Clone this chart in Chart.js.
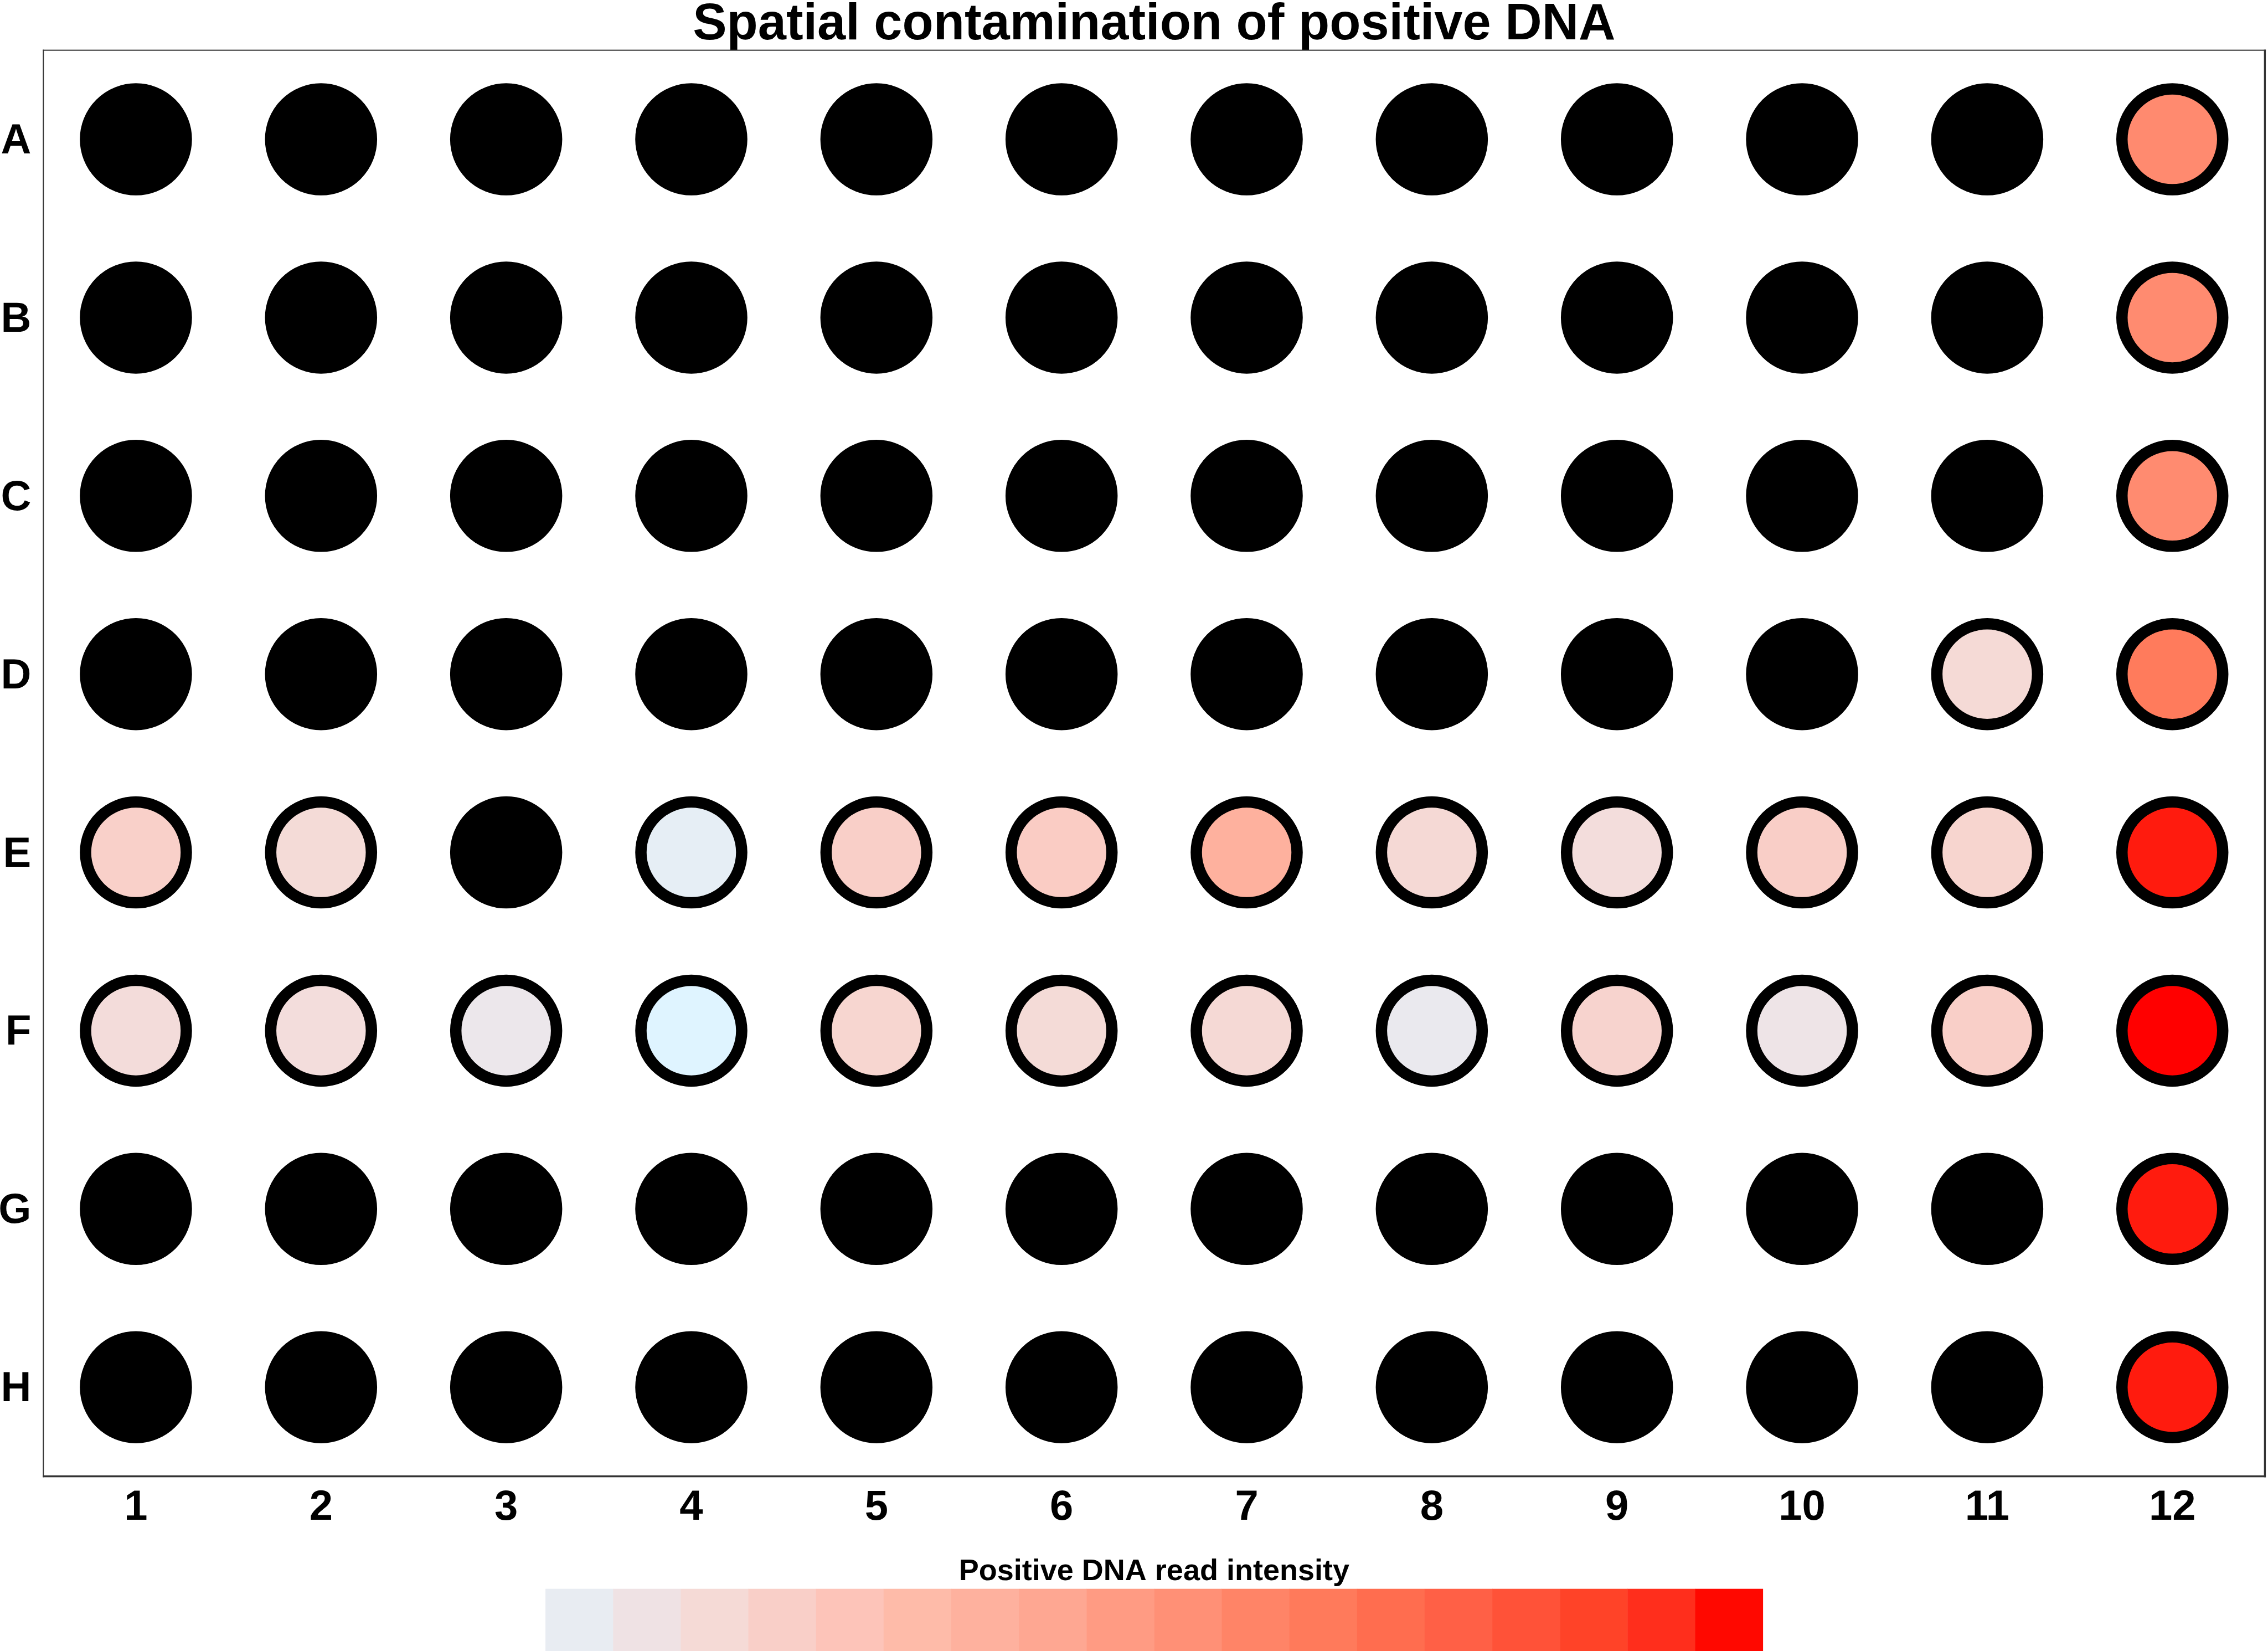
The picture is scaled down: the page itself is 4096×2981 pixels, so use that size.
<!DOCTYPE html>
<html>
<head>
<meta charset="utf-8">
<script src="https://cdn.jsdelivr.net/npm/chart.js@4.4.1/dist/chart.umd.min.js"></script>
<style>
  html, body { margin: 0; padding: 0; background: #ffffff; }
  canvas { display: block; }
</style>
</head>
<body>
<canvas id="c" width="4096" height="2981"></canvas>
<script>
// ---- data ----
const rowLabels = ['A', 'B', 'C', 'D', 'E', 'F', 'G', 'H'];
const colLabels = ['1', '2', '3', '4', '5', '6', '7', '8', '9', '10', '11', '12'];

// Positive DNA read intensity per well (0 = lowest, 18 = highest), null = no positive reads (black well)
const rowA = [null, null, null, null, null, null, null, null, null, null, null, 10.0];
const rowB = [null, null, null, null, null, null, null, null, null, null, null, 9.9];
const rowC = [null, null, null, null, null, null, null, null, null, null, null, 9.9];
const rowD = [null, null, null, null, null, null, null, null, null, null, 2.5, 11.4];
const rowE = [3.4, 2.4, null, 0.4, 3.5, 3.8, 6.5, 2.6, 2.1, 3.6, 3.0, 17.0];
const rowF = [2.2, 2.1, 1.0, 0.0, 2.9, 2.4, 2.6, 0.8, 3.1, 1.3, 3.5, 18.0];
const rowG = [null, null, null, null, null, null, null, null, null, null, null, 17.0];
const rowH = [null, null, null, null, null, null, null, null, null, null, null, 17.0];
const wellRows = [rowA, rowB, rowC, rowD, rowE, rowF, rowG, rowH];

// colour bar bins of the legend (low -> high)
const legendColors = [
  '#E8ECF2', '#EFE2E4', '#F5DAD6', '#F9CFC8', '#FDC4B9', '#FEBBA9',
  '#FEB19E', '#FEA792', '#FF9B83', '#FF9076', '#FF8467', '#FF7A5B',
  '#FF6D4F', '#FF6046', '#FF5238', '#FF4328', '#FF2E1C', '#FF0800'
];
const lowColor = '#DFF4FF';
const highColor = '#FF0000';
const naColor = '#000000';

const titleText = 'Spatial contamination of positive DNA';
const legendTitle = 'Positive DNA read intensity';

// ---- colour scale ----
function hex2rgb(h) {
  return [parseInt(h.slice(1, 3), 16), parseInt(h.slice(3, 5), 16), parseInt(h.slice(5, 7), 16)];
}
const stopPos = [0].concat(legendColors.map((c, i) => i + 0.5)).concat([legendColors.length]);
const stopCol = [lowColor].concat(legendColors).concat([highColor]).map(hex2rgb);
function colorFor(v) {
  if (v === null || v === undefined) return naColor;
  if (v <= stopPos[0]) return 'rgb(' + stopCol[0].join(',') + ')';
  for (let i = 1; i < stopPos.length; i++) {
    if (v <= stopPos[i]) {
      const t = (v - stopPos[i - 1]) / (stopPos[i] - stopPos[i - 1]);
      const a = stopCol[i - 1], b = stopCol[i];
      return 'rgb(' + a.map((x, k) => Math.round(x + (b[k] - x) * t)).join(',') + ')';
    }
  }
  return 'rgb(' + stopCol[stopCol.length - 1].join(',') + ')';
}

const points = [];
wellRows.forEach((vals, r) => {
  vals.forEach((v, c) => {
    points.push({ x: colLabels[c], y: rowLabels[r], v: v });
  });
});

const FONT = '"Liberation Sans", Arial, Helvetica, sans-serif';

// frame + colour bar legend
const framePlugin = {
  id: 'frame',
  afterDraw(chart) {
    const ctx = chart.ctx;
    const a = chart.chartArea;
    ctx.save();
    ctx.fillStyle = '#333333';
    ctx.fillRect(a.left - 1, a.top - 1, 2, a.bottom - a.top + 2.7);      // left
    ctx.fillRect(a.left - 1, a.top - 1, a.right - a.left + 2.7, 2);      // top
    ctx.fillRect(a.right - 1.7, a.top - 1, 3.4, a.bottom - a.top + 2.7); // right
    ctx.fillRect(a.left - 1, a.bottom - 1.7, a.right - a.left + 2.7, 3.4); // bottom

    // colour bar
    const cx = (a.left + a.right) / 2;
    const barW = 2198.5;
    const x0 = cx - barW / 2;
    const binW = barW / legendColors.length;
    const top = 2868.7;
    legendColors.forEach((c, i) => {
      ctx.fillStyle = c;
      ctx.fillRect(x0 + i * binW, top, binW + 0.5, chart.height - top);
    });
    ctx.fillStyle = '#000000';
    ctx.font = 'bold 54px ' + FONT;
    ctx.textAlign = 'center';
    ctx.textBaseline = 'alphabetic';
    ctx.fillText(legendTitle, cx, 2853);
    ctx.restore();
  }
};

new Chart(document.getElementById('c'), {
  type: 'scatter',
  data: {
    datasets: [{
      data: points,
      pointRadius: 91,
      pointHoverRadius: 91,
      pointBorderWidth: 20.5,
      pointHoverBorderWidth: 20.5,
      pointBorderColor: '#000000',
      pointBackgroundColor: (ctx) => colorFor(ctx.raw ? ctx.raw.v : null),
      clip: false
    }]
  },
  options: {
    responsive: false,
    devicePixelRatio: 1,
    animation: false,
    events: [],
    layout: { autoPadding: false, padding: { left: 0, right: 5.6, top: 0, bottom: 0 } },
    plugins: {
      legend: { display: false },
      tooltip: { enabled: false },
      title: {
        display: true,
        text: titleText,
        color: '#000000',
        fullSize: false,
        font: { family: FONT, size: 92, weight: 'bold', lineHeight: 0.78 },
        padding: { top: 10.2, bottom: 8.7 }
      }
    },
    scales: {
      x: {
        type: 'category',
        labels: colLabels,
        offset: true,
        position: 'bottom',
        grid: { display: false, drawTicks: false },
        border: { display: false },
        ticks: {
          color: '#000000',
          padding: 11.5,
          font: { family: FONT, size: 76, weight: 'bold' },
          maxRotation: 0,
          autoSkip: false
        },
        afterFit: (s) => { s.height = 315.4; }
      },
      y: {
        type: 'category',
        labels: rowLabels,
        offset: true,
        position: 'left',
        grid: { display: false, drawTicks: false },
        border: { display: false },
        ticks: {
          color: '#000000',
          padding: 22,
          labelOffset: 4.5,
          font: { family: FONT, size: 76, weight: 'bold' },
          autoSkip: false
        },
        afterFit: (s) => { s.width = 78.3; }
      }
    }
  },
  plugins: [framePlugin]
});
</script>
</body>
</html>
